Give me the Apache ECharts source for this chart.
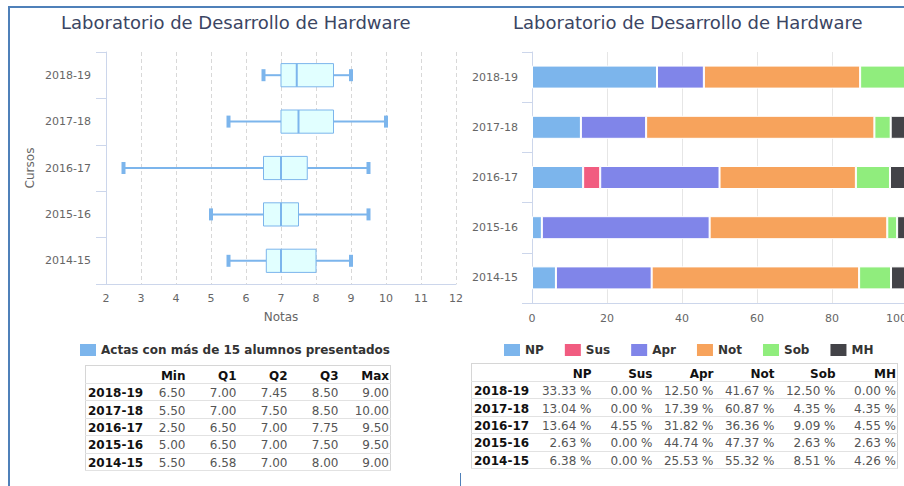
<!DOCTYPE html>
<html lang="es">
<head>
<meta charset="utf-8">
<title>Laboratorio de Desarrollo de Hardware</title>
<script src="https://cdn.jsdelivr.net/npm/echarts/dist/echarts.min.js"></script>
<style>
  html, body { margin: 0; padding: 0; overflow: hidden; background: #fff; }
  body { position: relative; width: 904px; height: 486px; font-family: 'DejaVu Sans', sans-serif; }
  #grafico { position: absolute; left: 0; top: 0; width: 904px; height: 486px; }
  .marco { position: absolute; left: 8px; top: 6px; width: 900px; height: 490px;
           border-left: 2px solid #4f80b9; border-top: 2px solid #4f80b9; box-sizing: border-box; }
  .separador { position: absolute; left: 460px; top: 473px; width: 1px; height: 14px; background: #4f80b9; }
  table.datos { position: absolute; border-collapse: collapse; table-layout: fixed;
                font: 12px 'DejaVu Sans', sans-serif; border: 1px solid #d6d6d6; }
  table.datos td, table.datos th { padding: 2px 1px 0 0; text-align: right; white-space: nowrap;
                overflow: visible; border-bottom: 1px solid #e2e2e2; color: #555; font-weight: normal;
                vertical-align: middle; line-height: 14px; }
  table.datos th { font-weight: bold; color: #111; }
  table.datos td.curso { text-align: left; padding-left: 2px; font-weight: bold; color: #111; }
  table.datos tr.cab th { height: 15px; }
  table.datos tr.fila td { height: 14.4px; }
</style>
</head>
<body>
<div class="marco"></div>
<div class="separador"></div>
<div id="grafico"></div>
<table class="datos" id="tablaNotas" style="left:85px; top:365px; width:305px;"></table>
<table class="datos" id="tablaPct" style="left:471px; top:363px; width:426px;"></table>
<script>
// Cursos académicos (de más reciente a más antiguo)
const cursos = ['2018-19', '2017-18', '2016-17', '2015-16', '2014-15'];

// Distribución de notas por curso (actas con más de 15 presentados)
const notasMin = [6.50, 5.50, 2.50, 5.00, 5.50];
const notasQ1  = [7.00, 7.00, 6.50, 6.50, 6.58];
const notasQ2  = [7.45, 7.50, 7.00, 7.00, 7.00];
const notasQ3  = [8.50, 8.50, 7.75, 7.50, 8.00];
const notasMax = [9.00, 10.00, 9.50, 9.50, 9.00];
const columnasNotas = ['Min', 'Q1', 'Q2', 'Q3', 'Max'];
const serieCaja = 'Actas con más de 15 alumnos presentados';

// Porcentaje de calificaciones por curso
const calificaciones = ['NP', 'Sus', 'Apr', 'Not', 'Sob', 'MH'];
const pctNP  = [33.33, 13.04, 13.64, 2.63, 6.38];
const pctSus = [0.00, 0.00, 4.55, 0.00, 0.00];
const pctApr = [12.50, 17.39, 31.82, 44.74, 25.53];
const pctNot = [41.67, 60.87, 36.36, 47.37, 55.32];
const pctSob = [12.50, 4.35, 9.09, 2.63, 8.51];
const pctMH  = [0.00, 4.35, 4.55, 2.63, 4.26];
const coloresCalif = ['#7cb5ec', '#f15c80', '#8085e9', '#f7a35c', '#90ed7d', '#434348'];

// Rangos de los ejes
const ejeNotas = { min: 2, max: 12, paso: 1 };
const ejePct = { min: 0, max: 100, paso: 20 };

const porcentajes = [pctNP, pctSus, pctApr, pctNot, pctSob, pctMH];
const notas = [notasMin, notasQ1, notasQ2, notasQ3, notasMax];

const azul = '#7cb5ec';
const fuente = 'DejaVu Sans';

// Caja y bigotes horizontales para cada curso
function dibujarCaja(params, api) {
  const i = api.value(0);
  const xs = [1, 2, 3, 4, 5].map(d => api.coord([api.value(d), i])[0]);
  const cy = api.coord([api.value(1), i])[1];
  const banda = api.size([0, 1])[1];
  const h = banda * 0.5;
  const [xMin, xQ1, xQ2, xQ3, xMax] = xs;
  const trazo = { stroke: azul, lineWidth: 2 };
  return {
    type: 'group',
    children: [
      { type: 'line', shape: { x1: xMin, y1: cy, x2: xQ1, y2: cy }, style: trazo },
      { type: 'line', shape: { x1: xQ3, y1: cy, x2: xMax, y2: cy }, style: trazo },
      { type: 'rect', shape: { x: xQ1, y: cy - h / 2, width: xQ3 - xQ1, height: h },
        style: { fill: '#e1ffff', stroke: azul, lineWidth: 1 } },
      { type: 'line', shape: { x1: xQ2, y1: cy - h / 2, x2: xQ2, y2: cy + h / 2 }, style: trazo },
      { type: 'rect', shape: { x: xMin - 2, y: cy - 6, width: 4, height: 12 }, style: { fill: azul } },
      { type: 'rect', shape: { x: xMax - 2, y: cy - 6, width: 4, height: 12 }, style: { fill: azul } }
    ]
  };
}

const estiloTitulo = { fontSize: 18, fontWeight: 'normal', color: '#3b4563', fontFamily: fuente };
const estiloLeyenda = { fontSize: 12, fontWeight: 'bold', color: '#333', fontFamily: fuente };
const estiloEtiqueta = { color: '#666', fontSize: 11, fontFamily: fuente };
const estiloNombre = { color: '#666', fontSize: 12, fontFamily: fuente };
const lineaEje = { show: true, lineStyle: { color: '#ccd6eb', width: 1 } };

const grafico = echarts.init(document.getElementById('grafico'), null, { renderer: 'svg' });

grafico.setOption({
  animation: false,
  textStyle: { fontFamily: fuente },
  title: [
    { text: 'Laboratorio de Desarrollo de Hardware', left: 61, top: 13, padding: 0, textStyle: estiloTitulo },
    { text: 'Laboratorio de Desarrollo de Hardware', left: 513, top: 13, padding: 0, textStyle: estiloTitulo }
  ],
  legend: [
    {
      left: 80, top: 344, padding: 0, itemWidth: 16, itemHeight: 12,
      data: [{ name: serieCaja, icon: 'rect' }],
      textStyle: estiloLeyenda, itemStyle: { borderWidth: 0 }
    },
    {
      left: 504, top: 344, padding: 0, itemWidth: 16, itemHeight: 12, itemGap: 21,
      data: calificaciones.map(n => ({ name: n, icon: 'rect' })),
      textStyle: estiloLeyenda, itemStyle: { borderWidth: 0 }
    }
  ],
  grid: [
    { left: 106, top: 52, width: 350, height: 232, outerBoundsMode: 'none', containLabel: false },
    { left: 532, top: 52, width: 375, height: 251, outerBoundsMode: 'none', containLabel: false }
  ],
  xAxis: [
    {
      gridIndex: 0, type: 'value', min: ejeNotas.min, max: ejeNotas.max, interval: ejeNotas.paso,
      axisLine: lineaEje, axisTick: { show: false },
      axisLabel: Object.assign({ margin: 9 }, estiloEtiqueta),
      splitLine: { show: true, lineStyle: { color: '#d8d8d8', type: [4, 3] } },
      name: 'Notas', nameLocation: 'middle', nameGap: 27, nameTextStyle: estiloNombre
    },
    {
      gridIndex: 1, type: 'value', min: ejePct.min, max: ejePct.max, interval: ejePct.paso,
      axisLine: lineaEje, axisTick: { show: false },
      axisLabel: Object.assign({ margin: 10, alignMaxLabel: 'right' }, estiloEtiqueta),
      splitLine: { show: true, lineStyle: { color: '#e6e6e6', type: 'solid' } }
    }
  ],
  yAxis: [
    {
      gridIndex: 0, type: 'category', data: cursos, inverse: true,
      axisLine: lineaEje, axisTick: { show: true, length: 10, lineStyle: { color: '#ccd6eb' } },
      axisLabel: Object.assign({ margin: 15 }, estiloEtiqueta),
      splitLine: { show: false },
      name: 'Cursos', nameLocation: 'middle', nameRotate: 90, nameGap: 70, nameTextStyle: estiloNombre
    },
    {
      gridIndex: 1, type: 'category', data: cursos, inverse: true,
      axisLine: lineaEje, axisTick: { show: true, length: 10, lineStyle: { color: '#ccd6eb' } },
      axisLabel: Object.assign({ margin: 14 }, estiloEtiqueta),
      splitLine: { show: false }
    }
  ],
  series: [
    {
      name: serieCaja, type: 'custom', xAxisIndex: 0, yAxisIndex: 0,
      itemStyle: { color: azul },
      encode: { x: [1, 2, 3, 4, 5], y: 0 },
      renderItem: dibujarCaja,
      data: cursos.map((c, i) => [i, notasMin[i], notasQ1[i], notasQ2[i], notasQ3[i], notasMax[i]])
    }
  ].concat(calificaciones.map((n, k) => ({
    name: n, type: 'bar', stack: 'total', xAxisIndex: 1, yAxisIndex: 1,
    barWidth: 23,
    itemStyle: { color: coloresCalif[k], borderColor: '#fff', borderWidth: 1 },
    emphasis: { disabled: true },
    data: porcentajes[k]
  })))
});

// Tablas de resumen
function construirTabla(id, columnas, anchoPrimera, anchoCol, filas) {
  const t = document.getElementById(id);
  let html = '<colgroup><col style="width:' + anchoPrimera + 'px">';
  columnas.forEach(() => { html += '<col style="width:' + anchoCol + 'px">'; });
  html += '</colgroup><tr class="cab"><th></th>';
  columnas.forEach(c => { html += '<th>' + c + '</th>'; });
  html += '</tr>';
  cursos.forEach((c, i) => {
    html += '<tr class="fila"><td class="curso">' + c + '</td>';
    filas.forEach(f => { html += '<td>' + f(i) + '</td>'; });
    html += '</tr>';
  });
  t.innerHTML = html;
}

construirTabla('tablaNotas', columnasNotas, 50, 51,
  notas.map(serie => i => serie[i].toFixed(2)));
construirTabla('tablaPct', calificaciones, 60, 61,
  porcentajes.map(serie => i => serie[i].toFixed(2) + ' %'));
</script>
</body>
</html>
